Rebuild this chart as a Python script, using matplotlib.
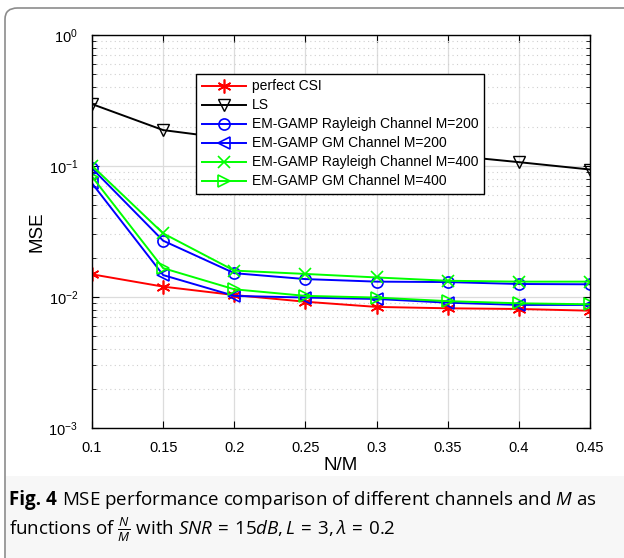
import matplotlib
matplotlib.use("Agg")
import matplotlib.pyplot as plt
from matplotlib.patches import FancyBboxPatch, Rectangle
from matplotlib.ticker import LogLocator, NullFormatter

plt.rcParams['font.family'] = ['Liberation Sans', 'DejaVu Sans']
plt.rcParams['mathtext.fontset'] = 'custom'
plt.rcParams['mathtext.rm'] = 'Open Sans'
plt.rcParams['mathtext.it'] = 'Open Sans:italic'

# data
nm = [0.1, 0.15, 0.2, 0.25, 0.3, 0.35, 0.4, 0.45]
perfect_csi = [0.0149, 0.0120, 0.01035, 0.0092, 0.0084, 0.0082, 0.0081, 0.00786]
ls = [0.297, 0.188, 0.160, 0.145, 0.132, 0.121, 0.107, 0.094]
ray_200 = [0.096, 0.0269, 0.0152, 0.0137, 0.0131, 0.0130, 0.01257, 0.0125]
gm_200 = [0.0738, 0.0147, 0.0102, 0.0099, 0.00966, 0.00905, 0.0087, 0.0087]
ray_400 = [0.1005, 0.0306, 0.0159, 0.0150, 0.0141, 0.0133, 0.0131, 0.0131]
gm_400 = [0.083, 0.0166, 0.01145, 0.0102, 0.0099, 0.0093, 0.00895, 0.0088]

fig = plt.figure(figsize=(6.24, 5.58), dpi=100)

# frame and caption band
fig.patches.append(Rectangle((6 / 624, 0), 1 - 6 / 624, 82 / 558, transform=fig.transFigure,
                             facecolor='#f7f7f7', edgecolor='none', zorder=-2))
fig.patches.append(FancyBboxPatch((5 / 624, -0.05), 1.1, 1 - 8 / 558 + 0.05,
                                  boxstyle='round,pad=0,rounding_size=0.02',
                                  transform=fig.transFigure, facecolor='none',
                                  edgecolor='#8c8c8c', linewidth=1.2, zorder=-1))

ax = fig.add_axes([92 / 624, 1 - 428 / 558, 498 / 624, 393 / 558])
ax.set_yscale('log')

ax.plot(nm, perfect_csi, color='red', marker=(6, 2, 0), ms=10, mew=1.2, lw=1.4, label='perfect CSI')
ax.plot(nm, ls, color='black', marker='v', ms=8, mfc='none', mew=1.0, lw=1.4, label='LS')
ax.plot(nm, ray_200, color='blue', marker='o', ms=8, mfc='none', mew=1.2, lw=1.4,
        label='EM-GAMP Rayleigh Channel M=200')
ax.plot(nm, gm_200, color='blue', marker='<', ms=8, mfc='none', mew=1.2, lw=1.4,
        label='EM-GAMP GM Channel M=200')
ax.plot(nm, ray_400, color='#00ff00', marker='x', ms=8, mew=1.2, lw=1.4,
        label='EM-GAMP Rayleigh Channel M=400')
ax.plot(nm, gm_400, color='#00ff00', marker='>', ms=8, mfc='none', mew=1.2, lw=1.4,
        label='EM-GAMP GM Channel M=400')

ax.set_xlim(0.1, 0.45)
ax.set_ylim(1e-3, 1)
ax.set_xticks(nm)
ax.set_xticklabels(['0.1', '0.15', '0.2', '0.25', '0.3', '0.35', '0.4', '0.45'])
ax.yaxis.set_major_locator(LogLocator(base=10, numticks=10))
ax.yaxis.set_minor_locator(LogLocator(base=10, subs=range(2, 10), numticks=20))
ax.yaxis.set_minor_formatter(NullFormatter())
ax.tick_params(which='both', direction='in', top=True, right=True, labelsize=10.5)
ax.tick_params(which='major', length=5)
ax.tick_params(which='minor', length=3)
ax.tick_params(axis='x', which='major', pad=9)
ax.tick_params(axis='y', which='major', pad=10)
ax.grid(True, which='major', color='#dcdcdc', lw=0.9)
ax.grid(True, which='minor', axis='y', color='#cfcfcf', lw=0.8, ls=(0, (1, 3)))
ax.set_axisbelow(True)
for s in ax.spines.values():
    s.set_linewidth(1.0)

ax.set_xlabel('N/M', fontsize=13.5, labelpad=2)
ax.set_ylabel('MSE', fontsize=13.5, labelpad=2)

leg = ax.legend(loc='upper left', bbox_to_anchor=(0.209, 0.901), fontsize=10,
                frameon=True, fancybox=False, edgecolor='black', framealpha=1,
                borderpad=0.4, labelspacing=0.36, handlelength=3.2, handletextpad=0.4,
                borderaxespad=0)
leg.get_frame().set_linewidth(1.0)

# caption
y1 = 1 - 505 / 558
y2 = 1 - 536 / 558
bold = fig.text(9 / 624, y1, 'Fig. 4', fontsize=13.5, family='Open Sans',
                fontweight='bold', va='baseline')
fig.canvas.draw()
bb = bold.get_window_extent(renderer=fig.canvas.get_renderer())
x_rest = (bb.x1 + 5) / fig.bbox.width
fig.text(x_rest, y1,
         r'MSE performance comparison of different channels and $M$ as',
         fontsize=13.5, family='Open Sans', va='baseline')
fig.text(9 / 624, y2,
         r'functions of $\frac{N}{M}$ with $SNR\,=\,15dB, L\,=\,3, \lambda\,=\,0.2$',
         fontsize=13.5, family='Open Sans', va='baseline')

fig.savefig('out.png', dpi=100)
